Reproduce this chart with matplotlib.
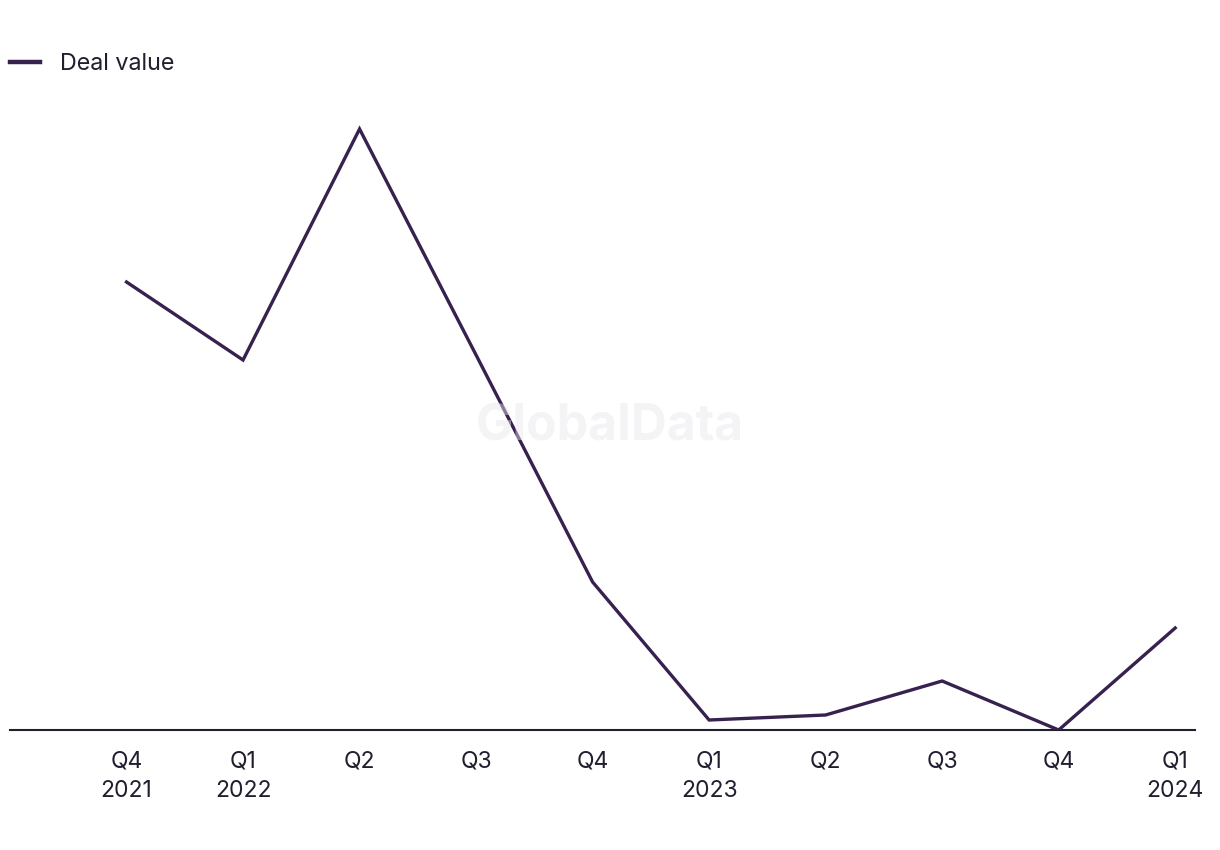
import matplotlib

matplotlib.use("Agg")
import matplotlib.pyplot as plt  # noqa: E402

# Valores (escala arbitrária, base = 0)
quarters = ["Q4\n2021", "Q1\n2022", "Q2", "Q3", "Q4", "Q1\n2023", "Q2", "Q3", "Q4", "Q1\n2024"]
deal_value = [448, 370, 601, 375, 148, 10, 15, 49, 0, 102]

line_color = "#36214f"
text_color = "#1f1f2e"

plt.rcParams["font.family"] = ["Inter", "DejaVu Sans"]

fig = plt.figure(figsize=(12.2, 8.5), dpi=100)
ax = fig.add_axes([10 / 1220, 1 - 730 / 850, 1185 / 1220, 630 / 850])

x = list(range(len(quarters)))
ax.plot(x, deal_value, color=line_color, linewidth=2.4, solid_joinstyle="miter",
        label="Deal value", zorder=3)

ax.set_xlim(-1.0, 9.17)
ax.set_ylim(0, 630)
ax.set_xticks(x)
ax.set_xticklabels(quarters, fontsize=16.5, color=text_color, linespacing=1.42)
ax.tick_params(axis="x", length=0, pad=15)
ax.set_yticks([])

for side in ["top", "right", "left"]:
    ax.spines[side].set_visible(False)
ax.spines["bottom"].set_color(text_color)
ax.spines["bottom"].set_linewidth(1.5)

# marca d'água (por cima da linha, bem clara)
fig.text(610 / 1220, 1 - 427 / 850, "GlobalData", fontsize=36, fontweight="bold",
         color="#e8e8ec", alpha=0.45, ha="center", va="center", zorder=10)

leg = fig.legend(loc="center left", bbox_to_anchor=(10 / 1220, 1 - 64 / 850), frameon=False,
                 fontsize=16.8, handlelength=1.3, handletextpad=0.83, borderaxespad=0,
                 borderpad=0)
for t in leg.get_texts():
    t.set_color(text_color)
for h in leg.get_lines():
    h.set_linewidth(3.2)

fig.savefig("out.png", dpi=100)
plt.close(fig)
